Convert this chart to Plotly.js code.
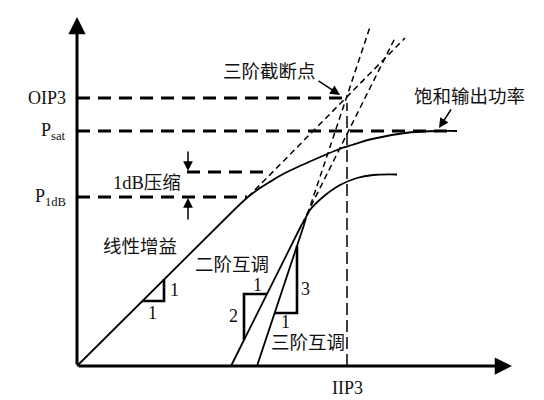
<!DOCTYPE html>
<html><head><meta charset="utf-8">
<script src="https://cdn.plot.ly/plotly-3.0.1.min.js"></script>
<style>html,body{margin:0;padding:0;background:#fff}#chart{width:544px;height:400px}</style>
</head><body><div id="chart"></div>
<script>
// Schematic values (arbitrary power units, input on x, output on y)
const levels = {OIP3: 26.8, Psat: 23.5, P1dB: 16.9, P1dBref: 19.4};
const IIP3 = 27.0;
const P1dBin = 17.0;
const axisMaxX = 43.5, axisMaxY = 34.9;

// Fundamental output: linear part
const linX = [0, 15.6];
const linY = [0, 15.5];
// Fundamental output: compression part
const fundX = [15.6, 17.1, 18.3, 19.1, 20.8, 22.5, 24.1, 26.0, 27.5, 29.5, 32.8, 36.2, 38.0];
const fundY = [15.5, 16.9, 17.8, 18.3, 19.3, 20.1, 20.8, 21.6, 22.1, 22.7, 23.3, 23.5, 23.5];
// Linear-gain extrapolation (slope 1)
const linExtX = [17.1, 32.8];
const linExtY = [16.9, 32.8];
// 2nd-order IMD (slope 2)
const im2X = [15.4, 22.5];
const im2Y = [0, 14.2];
const im2ExtX = [22.5, 31.75];
const im2ExtY = [14.2, 32.7];
// 3rd-order IMD (slope 3)
const im3X = [18.0, 22.73];
const im3Y = [0, 14.2];
const im3ExtX = [22.73, 29.3];
const im3ExtY = [14.2, 33.9];
// IMD compression curve
const imCurveX = [22.6, 23.3, 24.6, 26.3, 28.0, 29.6, 32.0];
const imCurveY = [14.2, 15.6, 16.9, 18.1, 18.8, 19.1, 19.15];
// Slope triangles
const tri1X = [6.5, 8.7, 8.7],  tri1Y = [6.5, 6.5, 8.7];
const tri2X = [16.7, 16.7, 19.0], tri2Y = [2.6, 7.2, 7.2];
const tri3X = [19.77, 22.0, 22.0], tri3Y = [5.3, 5.3, 12.0];
// Tick labels
const yTickLabels = ['OIP3', 'P<sub>sat</sub>', 'P<sub>1dB</sub>'];
const yTickVals = [levels.OIP3, levels.Psat, levels.P1dB];
const xTickLabel = 'IIP3';

const K = '#000';
const traces = [];
function line(x, y, w, dash, shape) {
  traces.push({x: x, y: y, mode: 'lines', hoverinfo: 'skip', showlegend: false,
    line: {color: K, width: w, dash: dash || 'solid', shape: shape || 'linear', smoothing: 1}});
}
// dashed level lines
line([0, 26.7], [levels.OIP3, levels.OIP3], 3, '13px,8px');
line([0, 37.2], [levels.Psat, levels.Psat], 3, '13px,8px');
line([0, P1dBin], [levels.P1dB, levels.P1dB], 3, '13px,8px');
line([11.0, 19.4], [levels.P1dBref, levels.P1dBref], 3, '13px,8px');
line([IIP3, IIP3], [0, 26.3], 1.5, '12px,5px');
// extrapolations
line(linExtX, linExtY, 1.5, '6px,4px');
line(im2ExtX, im2ExtY, 1.5, '6px,4px');
line(im3ExtX, im3ExtY, 1.5, '6px,4px');
// solid curves
line(linX, linY, 1.8);
line(fundX, fundY, 1.8, 'solid', 'spline');
line(im2X, im2Y, 1.8);
line(im3X, im3Y, 1.8);
line(imCurveX, imCurveY, 1.8, 'solid', 'spline');
line(tri1X, tri1Y, 2.6);
line(tri2X, tri2Y, 2.6);
line(tri3X, tri3Y, 2.6);

const serif = 'Liberation Serif, Noto Sans CJK SC, serif';
const cjk = 'Liberation Serif, Noto Sans CJK SC, sans-serif';
const ann = [];
function arrow(x0, y0, x1, y1, w, size) {
  ann.push({x: x1, y: y1, ax: x0, ay: y0, xref: 'x', yref: 'y', axref: 'x', ayref: 'y',
    text: '', showarrow: true, arrowhead: 2, arrowsize: size, arrowwidth: w, arrowcolor: K});
}
function txt(x, y, t, size, xanchor, font) {
  ann.push({x: x, y: y, xref: 'x', yref: 'y', text: t, showarrow: false,
    xanchor: xanchor || 'center', yanchor: 'middle', font: {family: font || serif, size: size, color: '#111'}});
}
// axes with arrows
arrow(0, 0, axisMaxX, 0, 3, 1.15);
arrow(0, 0, 0, axisMaxY, 3, 1.15);
// 1dB arrows
arrow(11.1, 21.6, 11.1, 19.5, 1.5, 1.3);
arrow(11.1, 14.5, 11.1, 16.8, 1.5, 1.3);
// label arrows
arrow(24.0, 28.6, 26.3, 27.1, 1.5, 1.3);
arrow(37.5, 25.8, 36.2, 23.8, 1.5, 1.3);

yTickLabels.forEach((t, i) => txt(-0.9, yTickVals[i], t, 18, 'right'));
txt(IIP3, -2.2, xTickLabel, 18);
txt(19.2, 29.4, '三阶截断点', 18.5, 'center', cjk);
txt(39.2, 26.9, '饱和输出功率', 18.5, 'center', cjk);
txt(7.0, 18.3, '1dB压缩', 18.5, 'center', cjk);
txt(6.3, 11.9, '线性增益', 18.5, 'center', cjk);
txt(15.5, 10.1, '二阶互调', 18.5, 'center', cjk);
txt(23.1, 2.3, '三阶互调', 18.5, 'center', cjk);
// slope labels
txt(9.7, 7.6, '1', 18); txt(7.5, 5.3, '1', 18);
txt(18.0, 8.1, '1', 18); txt(15.6, 5.0, '2', 18);
txt(22.8, 7.7, '3', 18); txt(20.8, 4.4, '1', 18);

const layout = {
  width: 544, height: 400, margin: {l: 0, r: 0, t: 0, b: 0},
  paper_bgcolor: '#fff', plot_bgcolor: '#fff', showlegend: false,
  xaxis: {range: [-7.7, 46.7], visible: false, fixedrange: true},
  yaxis: {range: [-3.4, 36.6], visible: false, fixedrange: true},
  annotations: ann
};
Plotly.newPlot('chart', traces, layout, {staticPlot: true});
</script></body></html>
